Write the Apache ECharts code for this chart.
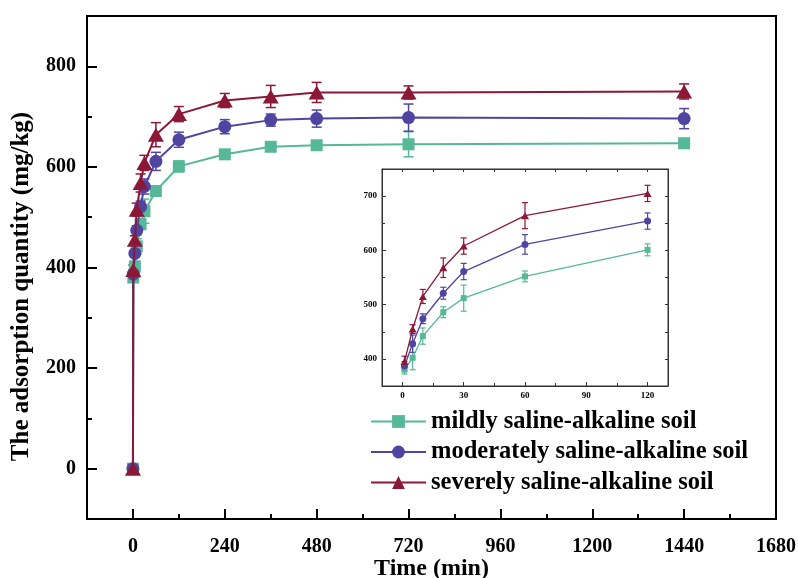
<!DOCTYPE html>
<html>
<head>
<meta charset="utf-8">
<script src="https://cdn.jsdelivr.net/npm/echarts@6/dist/echarts.min.js"></script>
<style>
  html, body { margin: 0; padding: 0; background: #fff; }
  #chart { width: 798px; height: 578px; }
</style>
</head>
<body>
<div id="chart"></div>
<script>
// ----------資料----------
const times = [0, 1, 5, 10, 20, 30, 60, 120, 240, 360, 480, 720, 1440];
const mild = [0, 380, 402, 442, 486, 512, 552, 601, 625, 640, 643, 645, 647];
const moderate = [0, 387, 428, 474, 521, 561, 611, 654, 680, 693, 696, 698, 696];
const severe = [0, 395, 455, 515, 568, 608, 664, 705, 732, 740, 748, 748, 750];
const mildErr = [0, 8, 22, 15, 10, 24, 10, 11, 5, 5, 5, 25, 5];
const moderateErr = [0, 8, 16, 9, 11, 15, 18, 15, 14, 12, 17, 27, 20];
const severeErr = [0, 10, 8, 13, 18, 15, 24, 15, 14, 22, 20, 13, 15];
const seriesNames = [
  'mildly saline-alkaline soil',
  'moderately saline-alkaline soil',
  'severely saline-alkaline soil',
];
const xMajorTicks = [0, 240, 480, 720, 960, 1200, 1440, 1680];
const xMinorTicks = [120, 360, 600, 840, 1080, 1320, 1560];
const yMajorTicks = [0, 200, 400, 600, 800];
const yMinorTicks = [100, 300, 500, 700];
const insetXTicks = [0, 30, 60, 90, 120];
const insetXMinorTicks = [15, 45, 75, 105];
const insetYTicks = [400, 500, 600, 700];
const insetYMinorTicks = [450, 550, 650];
const insetMaxTime = 120;
// ------------------------

// ----------樣式----------
const FONT = "'Times New Roman', 'Liberation Serif', serif";
const colors = ['#55b896', '#4f45a0', '#8c1838'];
const symbols = ['rect', 'circle', 'triangle'];
const mainSymbolSize = [12, 13, [16, 14]];
const insetSymbolSize = [6, 7, [8, 7]];
const values = [mild, moderate, severe];
const errors = [mildErr, moderateErr, severeErr];
const plain = (v) => String(v); // 不要千分位
// ------------------------

// ----------座標軸----------
const baseAxis = (extra) => Object.assign({
  type: 'value',
  splitLine: { show: false },
  axisLine: { show: true, onZero: false, lineStyle: { color: '#000', width: 2 } },
  axisTick: { show: true, inside: true },
  axisLabel: { show: false },
}, extra);

const xAxes = [
  // 主圖 主刻度
  baseAxis({
    gridIndex: 0, min: -120, max: 1680, position: 'bottom',
    name: 'Time (min)', nameLocation: 'middle', nameGap: 38, nameMoveOverlap: false,
    nameTextStyle: { fontFamily: FONT, fontWeight: 'bold', fontSize: 24, color: '#000' },
    axisTick: { show: true, inside: true, length: 10, customValues: xMajorTicks, lineStyle: { color: '#000', width: 2 } },
    axisLabel: { show: true, customValues: xMajorTicks, formatter: plain, margin: 18, fontFamily: FONT, fontWeight: 'bold', fontSize: 20, color: '#000' },
  }),
  // 主圖 次刻度
  baseAxis({
    gridIndex: 0, min: -120, max: 1680, position: 'bottom',
    axisTick: { show: true, inside: true, length: 5, customValues: xMinorTicks, lineStyle: { color: '#000', width: 2 } },
  }),
  // 小圖
  baseAxis({
    gridIndex: 1, min: -10, max: 130, position: 'bottom',
    axisLine: { show: true, onZero: false, lineStyle: { color: '#333', width: 1 } },
    axisTick: { show: true, inside: true, length: 4, customValues: insetXTicks, lineStyle: { color: '#333' } },
    axisLabel: { show: true, customValues: insetXTicks, formatter: plain, margin: 5, fontFamily: FONT, fontWeight: 'bold', fontSize: 9, color: '#000' },
  }),
  baseAxis({
    gridIndex: 1, min: -10, max: 130, position: 'bottom',
    axisLine: { show: false, onZero: false },
    axisTick: { show: true, inside: true, length: 3, customValues: insetXMinorTicks, lineStyle: { color: '#333' } },
  }),
  baseAxis({
    gridIndex: 1, min: -10, max: 130, position: 'top',
    axisLine: { show: true, onZero: false, lineStyle: { color: '#333', width: 1 } },
    axisTick: { show: true, inside: true, length: 3, customValues: insetXTicks.concat(insetXMinorTicks), lineStyle: { color: '#333' } },
  }),
];

const yAxes = [
  baseAxis({
    gridIndex: 0, min: -100, max: 900, position: 'left',
    name: 'The adsorption quantity (mg/kg)', nameLocation: 'middle', nameGap: 53,
    // 右側 padding 讓標題往下移
    nameTextStyle: { fontFamily: FONT, fontWeight: 'bold', fontSize: 25, color: '#000', padding: [0, 38, 0, 0] },
    axisTick: { show: true, inside: true, length: 10, customValues: yMajorTicks, lineStyle: { color: '#000', width: 2 } },
    axisLabel: { show: true, customValues: yMajorTicks, formatter: plain, margin: 11, fontFamily: FONT, fontWeight: 'bold', fontSize: 20, color: '#000' },
  }),
  baseAxis({
    gridIndex: 0, min: -100, max: 900, position: 'left',
    axisTick: { show: true, inside: true, length: 5, customValues: yMinorTicks, lineStyle: { color: '#000', width: 2 } },
  }),
  baseAxis({
    gridIndex: 1, min: 350, max: 750, position: 'left',
    axisLine: { show: true, onZero: false, lineStyle: { color: '#333', width: 1 } },
    axisTick: { show: true, inside: true, length: 4, customValues: insetYTicks, lineStyle: { color: '#333' } },
    axisLabel: { show: true, customValues: insetYTicks, formatter: plain, margin: 5, fontFamily: FONT, fontWeight: 'bold', fontSize: 9, color: '#000' },
  }),
  baseAxis({
    gridIndex: 1, min: 350, max: 750, position: 'left',
    axisLine: { show: false, onZero: false },
    axisTick: { show: true, inside: true, length: 3, customValues: insetYMinorTicks, lineStyle: { color: '#333' } },
  }),
  baseAxis({
    gridIndex: 1, min: 350, max: 750, position: 'right',
    axisLine: { show: true, onZero: false, lineStyle: { color: '#333', width: 1 } },
    axisTick: { show: true, inside: true, length: 3, customValues: insetYTicks.concat(insetYMinorTicks), lineStyle: { color: '#333' } },
  }),
];
// --------------------------

// ----------誤差棒----------
const errorBarRender = (capHalf, lineWidth) => (params, api) => {
  const x = api.value(0);
  const top = api.coord([x, api.value(2)]);
  const bot = api.coord([x, api.value(1)]);
  const style = { stroke: api.visual('color'), lineWidth };
  return {
    type: 'group',
    children: [
      { type: 'line', shape: { x1: top[0], y1: top[1], x2: bot[0], y2: bot[1] }, style },
      { type: 'line', shape: { x1: top[0] - capHalf, y1: top[1], x2: top[0] + capHalf, y2: top[1] }, style },
      { type: 'line', shape: { x1: bot[0] - capHalf, y1: bot[1], x2: bot[0] + capHalf, y2: bot[1] }, style },
    ],
  };
};
// --------------------------

// ----------系列----------
const lineSeries = [];
const errSeries = [];
values.forEach((vals, i) => {
  const mainData = times.map((t, k) => [t, vals[k]]);
  const insetData = times.map((t, k) => [t, vals[k]]).filter((d) => d[0] > 0 && d[0] <= insetMaxTime);
  const mainErr = times.map((t, k) => [t, vals[k] - errors[i][k], vals[k] + errors[i][k]]).filter((d, k) => errors[i][k] > 0);
  const insetErr = times.map((t, k) => [t, vals[k] - errors[i][k], vals[k] + errors[i][k]]).filter((d) => d[0] > 0 && d[0] <= insetMaxTime);

  lineSeries.push({
    name: seriesNames[i], type: 'line', xAxisIndex: 0, yAxisIndex: 0,
    data: mainData, symbol: symbols[i], symbolSize: mainSymbolSize[i],
    lineStyle: { color: colors[i], width: 2 }, itemStyle: { color: colors[i] }, z: 3 + i,
  });
  lineSeries.push({
    name: seriesNames[i], type: 'line', xAxisIndex: 2, yAxisIndex: 2,
    data: insetData, symbol: symbols[i], symbolSize: insetSymbolSize[i],
    lineStyle: { color: colors[i], width: 1.3 }, itemStyle: { color: colors[i] }, z: 3 + i,
  });
  errSeries.push({
    name: 'err-main-' + i, type: 'custom', xAxisIndex: 0, yAxisIndex: 0,
    data: mainErr, renderItem: errorBarRender(5, 1.5), itemStyle: { color: colors[i] }, z: 2,
  });
  errSeries.push({
    name: 'err-inset-' + i, type: 'custom', xAxisIndex: 2, yAxisIndex: 2,
    data: insetErr, renderItem: errorBarRender(3, 1.2), itemStyle: { color: colors[i] }, z: 2,
  });
});
// ------------------------

const chart = echarts.init(document.getElementById('chart'));
chart.setOption({
  animation: false,
  backgroundColor: '#fff',
  grid: [
    { left: 87, top: 16, right: 22, bottom: 59, outerBoundsMode: 'none', show: true, borderColor: '#000', borderWidth: 2 },
    { left: 382, top: 169, right: 130, bottom: 192, outerBoundsMode: 'none', show: true, borderColor: '#333', borderWidth: 1 },
  ],
  legend: {
    data: seriesNames,
    orient: 'vertical',
    left: 370,
    top: 409,
    padding: 0,
    itemWidth: 55,
    itemHeight: 16,
    itemGap: 5.5,
    itemTextGap: 7,
    textStyle: { fontFamily: FONT, fontWeight: 'bold', fontSize: 24.5, color: '#000' },
  },
  xAxis: xAxes,
  yAxis: yAxes,
  series: lineSeries.concat(errSeries),
});
</script>
</body>
</html>
